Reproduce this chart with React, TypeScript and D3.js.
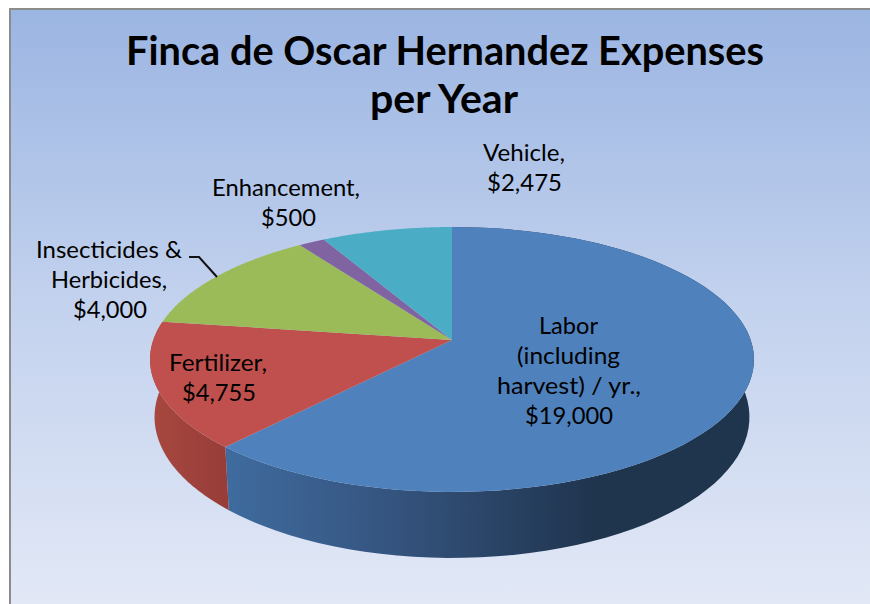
import React from "react";
import * as d3 from "d3";

const categories = ["Labor (including harvest) / yr.", "Fertilizer", "Insecticides & Herbicides", "Enhancement", "Vehicle"];
const expenses = [19000, 4755, 4000, 500, 2475];
const sliceColors = ["#4f81bd", "#c0504d", "#9bbb59", "#8064a2", "#4bacc6"];
const titleLines = ["Finca de Oscar Hernandez Expenses", "per Year"];
const labelLines = [
  ["Labor", "(including", "harvest) / yr.,", "$19,000"],
  ["Fertilizer,", "$4,755"],
  ["Insecticides &", "Herbicides,", "$4,000"],
  ["Enhancement,", "$500"],
  ["Vehicle,", "$2,475"],
];

// Layout only: [left, width, baseline] of each text line.
const titleBoxes = [[126, 638, 65], [370, 148, 113]];
const labelBoxes = [
  [[539, 59, 334], [517, 103, 364], [497, 144, 394], [525, 88, 424]],
  [[169, 98, 371], [182, 74, 401]],
  [[36, 146, 258], [51, 116, 288], [73, 74, 318]],
  [[212, 148, 196], [261, 55, 226]],
  [[483, 82, 161], [487, 75, 191]],
];

const W = 870, H = 604;
const APEX_X = 452, APEX_Y = 340, R = 298.7, H_SCALE = 129.6, PERSP = 0.147, DEPTH = 66;

// Projective map of a unit circle onto the tilted pie top.
function project(angle: number) {
  const u = Math.sin(angle), v = Math.cos(angle);
  const s = 1 / (1 + PERSP * v);
  return { x: APEX_X + R * u * s, y: APEX_Y - H_SCALE * v * s, s };
}
function projectBottom(angle: number) {
  const p = project(angle);
  const d = DEPTH * p.s * (1 - PERSP);
  return { x: APEX_X + (p.x - APEX_X) * 0.985, y: p.y + d };
}
const pts = (a0: number, a1: number, f: (a: number) => { x: number; y: number }) =>
  d3.range(0, 81).map((i) => {
    const p = f(a0 + ((a1 - a0) * i) / 80);
    return [p.x, p.y] as [number, number];
  });

export default function App() {
  const arcs = d3.pie<number>().sort(null)(expenses);
  const line = d3.line();
  const topPath = (a: d3.PieArcDatum<number>) =>
    line([[APEX_X, APEX_Y], ...pts(a.startAngle, a.endAngle, project)])! + "Z";
  const wallPath = (a: d3.PieArcDatum<number>) =>
    line([...pts(a.startAngle, a.endAngle, project), ...pts(a.endAngle, a.startAngle, projectBottom)])! + "Z";
  return (
    <svg width={W} height={H} style={{ position: "absolute", left: 0, top: 0 }}>
      <defs>
        <linearGradient id="bg" x1="0" y1="0" x2="0" y2="1">
          <stop offset="0" stopColor="#9bb5e2" />
          <stop offset="0.5" stopColor="#c3d2ee" />
          <stop offset="1" stopColor="#e2e8f6" />
        </linearGradient>
        <linearGradient id="wall0" gradientUnits="userSpaceOnUse" x1="228" y1="0" x2="600" y2="0">
          <stop offset="0" stopColor="#3f6b9e" />
          <stop offset="0.4" stopColor="#365682" />
          <stop offset="1" stopColor="#1f344d" />
        </linearGradient>
        <linearGradient id="wall1" gradientUnits="userSpaceOnUse" x1="150" y1="0" x2="230" y2="0">
          <stop offset="0" stopColor="#a8483f" />
          <stop offset="1" stopColor="#973c39" />
        </linearGradient>
      </defs>
      <rect x={0} y={0} width={W} height={H} fill="#fff" />
      <rect x={10} y={9} width={W - 10} height={H - 9} fill="url(#bg)" />
      <path d={`M10,${H} V9 H${W}`} fill="none" stroke="#8c8c8c" strokeWidth={2} />
      {arcs.slice(0, 2).map((a, i) => (
        <path key={i} d={wallPath(a)} fill={`url(#wall${i})`} />
      ))}
      {arcs.map((a, i) => (
        <path key={i} d={topPath(a)} fill={sliceColors[i]} />
      ))}
      <path d="M189,257 H199 L217,277" fill="none" stroke="#111" strokeWidth={2} />
      <g fontFamily="Lato, 'Open Sans', sans-serif" fill="#000">
        {titleLines.map((t, i) => (
          <text key={i} x={titleBoxes[i][0]} y={titleBoxes[i][2]} textLength={titleBoxes[i][1]} lengthAdjust="spacingAndGlyphs" fontSize={40} fontWeight={700}>{t}</text>
        ))}
        {labelLines.map((ls, i) =>
          ls.map((t, j) => (
            <text key={j + "-" + i} x={labelBoxes[i][j][0]} y={labelBoxes[i][j][2]} textLength={labelBoxes[i][j][1]} lengthAdjust="spacingAndGlyphs" fontSize={23.5}>{t}</text>
          ))
        )}
      </g>
    </svg>
  );
}
